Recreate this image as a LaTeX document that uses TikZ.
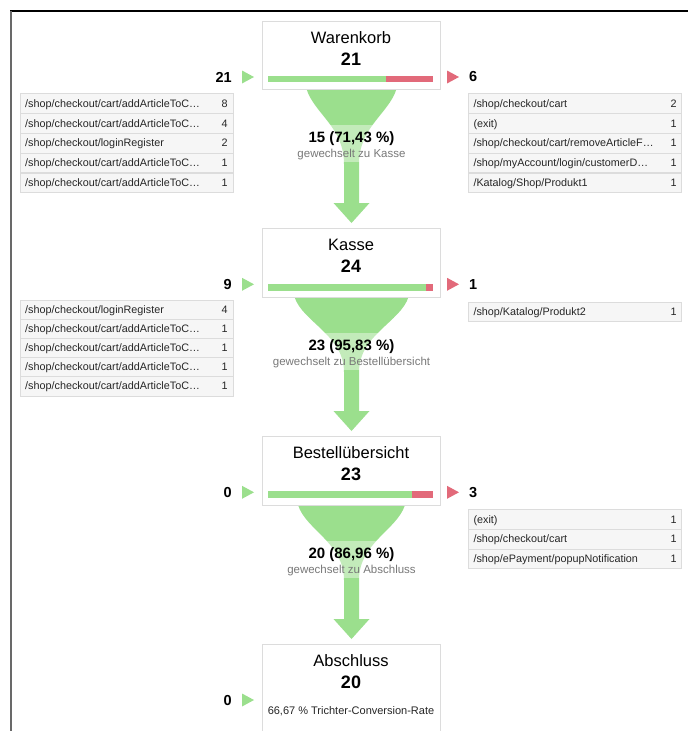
\documentclass[tikz,border=0pt]{standalone}
\usepackage{fontspec}
\setmainfont{Liberation Sans}
\definecolor{funnelgreen}{RGB}{155,223,141}
\definecolor{exitred}{RGB}{226,106,122}
\definecolor{rowgray}{RGB}{246,246,246}
\definecolor{linegray}{RGB}{220,220,220}
\definecolor{subgray}{RGB}{120,120,120}
\definecolor{framegray}{RGB}{105,105,105}

\begin{document}
\begin{tikzpicture}[x=1pt,y=-1pt,
  stage/.style={draw=linegray,fill=white,minimum width=178pt,anchor=north,inner sep=0pt},
  title/.style={font=\fontsize{16.5}{19}\selectfont,inner sep=0pt},
  count/.style={font=\fontsize{18}{21}\bfseries\selectfont,inner sep=0pt},
  sidenum/.style={font=\fontsize{14.5}{17}\bfseries\selectfont,inner sep=0pt},
  pct/.style={font=\fontsize{15}{18}\bfseries\selectfont,inner sep=0pt},
  goal/.style={font=\fontsize{11.5}{14}\selectfont,text=subgray,inner sep=0pt},
  row/.style={draw=linegray,fill=rowgray,minimum width=213pt,minimum height=19.6pt,anchor=north west,inner sep=0pt},
  rowtext/.style={font=\fontsize{10.8}{13}\selectfont,text=black!85,inner sep=0pt}]
\useasboundingbox (0,0) rectangle (688,731);

% frame
\draw[black, line width=1.3] (10,11) -- (688,11);
\draw[framegray, line width=2] (10.5,11) -- (10.5,731);

% funnels
\foreach \y/\hw/\p/\g in {89/45/{15 (71,43 \%)}/{gewechselt zu Kasse},
    297/57/{23 (95,83 \%)}/{gewechselt zu Bestellübersicht},
    505/53.5/{20 (86,96 \%)}/{gewechselt zu Abschluss}} {
  \fill[funnelgreen] ({351.5-\hw},\y) .. controls ({351.5-\hw+8},{\y+25}) and (344,{\y+38}) .. (344,{\y+75})
    -- (344,{\y+114}) -- (333.5,{\y+114}) -- (351.5,{\y+134}) -- (369.5,{\y+114}) -- (359,{\y+114})
    -- (359,{\y+75}) .. controls (359,{\y+38}) and ({351.5+\hw-8},{\y+25}) .. ({351.5+\hw},\y) -- cycle;
  \fill[white, opacity=.4] (285,{\y+36}) rectangle (418,{\y+73});
  \node[pct] (pct-\y) at (351.5,{\y+50}) {\p};
  \node[goal] (goal-\y) at (351.5,{\y+66}) {\g};
}

% stages
\node[stage, minimum height=68] (warenkorb) at (351,21) {};
\node[stage, minimum height=69.5] (kasse) at (351,227.5) {};
\node[stage, minimum height=69.5] (bestell) at (351,435.5) {};
\node[stage, minimum height=100] (abschluss) at (351,643.5) {};

\node[title] (warenkorb-t) at (351,37.5) {Warenkorb};
\node[count] (warenkorb-n) at (351,59) {21};
\node[title] (kasse-t) at (351,245) {Kasse};
\node[count] (kasse-n) at (351,266.5) {24};
\node[title] (bestell-t) at (351,453) {Bestellübersicht};
\node[count] (bestell-n) at (351,474) {23};
\node[title] (abschluss-t) at (351,661) {Abschluss};
\node[count] (abschluss-n) at (351,682.5) {20};
\node[rowtext, font=\fontsize{11}{13}\selectfont] (rate) at (351,711) {66,67 \% Trichter-Conversion-Rate};

% bars
\fill[funnelgreen] (268,75.5) rectangle (386,82);
\fill[exitred] (386,75.5) rectangle (433,82);
\fill[funnelgreen] (268,284) rectangle (426,290.7);
\fill[exitred] (426,284) rectangle (433,290.7);
\fill[funnelgreen] (268,491.3) rectangle (411.5,498);
\fill[exitred] (411.5,491.3) rectangle (433,498);

% entries and exits
\foreach \y/\a [count=\i] in {77/21, 284.3/9, 492.3/0, 700/0} {
  \fill[funnelgreen] (242,{\y-6.5}) -- (254,\y) -- (242,{\y+6.5}) -- cycle;
  \node[sidenum, anchor=east] (in-\i) at (232,\y) {\a};
}
\foreach \y/\b [count=\i] in {77/6, 284.3/1, 492.3/3} {
  \fill[exitred] (447,{\y-6.5}) -- (459,\y) -- (447,{\y+6.5}) -- cycle;
  \node[sidenum, anchor=west] (out-\i) at (469,\y) {\b};
}

% tables
\foreach \t/\n [count=\i] in {{/shop/checkout/cart/addArticleToC…}/8, {/shop/checkout/cart/addArticleToC…}/4,
    {/shop/checkout/loginRegister}/2, {/shop/checkout/cart/addArticleToC…}/1, {/shop/checkout/cart/addArticleToC…}/1} {
  \node[row] (wl-\i) at (20,{93.3+(\i-1)*19.8}) {};
  \node[rowtext, anchor=base west] at ([xshift=5pt,yshift=-3.9pt]wl-\i.west) {\t};
  \node[rowtext, anchor=base east] at ([xshift=-5.5pt,yshift=-3.9pt]wl-\i.east) {\n};
}
\foreach \t/\n [count=\i] in {{/shop/checkout/cart}/2, {(exit)}/1, {/shop/checkout/cart/removeArticleF…}/1,
    {/shop/myAccount/login/customerD…}/1, {/Katalog/Shop/Produkt1}/1} {
  \node[row] (wr-\i) at (468.3,{93.3+(\i-1)*19.8}) {};
  \node[rowtext, anchor=base west] at ([xshift=5pt,yshift=-3.9pt]wr-\i.west) {\t};
  \node[rowtext, anchor=base east] at ([xshift=-5pt,yshift=-3.9pt]wr-\i.east) {\n};
}
\foreach \t/\n [count=\i] in {{/shop/checkout/loginRegister}/4, {/shop/checkout/cart/addArticleToC…}/1,
    {/shop/checkout/cart/addArticleToC…}/1, {/shop/checkout/cart/addArticleToC…}/1, {/shop/checkout/cart/addArticleToC…}/1} {
  \node[row] (kl-\i) at (20,{300+(\i-1)*19}) {};
  \node[rowtext, anchor=base west] at ([xshift=5pt,yshift=-3.9pt]kl-\i.west) {\t};
  \node[rowtext, anchor=base east] at ([xshift=-5.5pt,yshift=-3.9pt]kl-\i.east) {\n};
}
\node[row] (kr-1) at (468.3,301.7) {};
\node[rowtext, anchor=base west] at ([xshift=5pt,yshift=-3.9pt]kr-1.west) {/shop/Katalog/Produkt2};
\node[rowtext, anchor=base east] at ([xshift=-5pt,yshift=-3.9pt]kr-1.east) {1};
\foreach \t/\n [count=\i] in {{(exit)}/1, {/shop/checkout/cart}/1, {/shop/ePayment/popupNotification}/1} {
  \node[row] (br-\i) at (468.3,{509.3+(\i-1)*19.6}) {};
  \node[rowtext, anchor=base west] at ([xshift=5pt,yshift=-3.9pt]br-\i.west) {\t};
  \node[rowtext, anchor=base east] at ([xshift=-5pt,yshift=-3.9pt]br-\i.east) {\n};
}
\end{tikzpicture}
\end{document}
